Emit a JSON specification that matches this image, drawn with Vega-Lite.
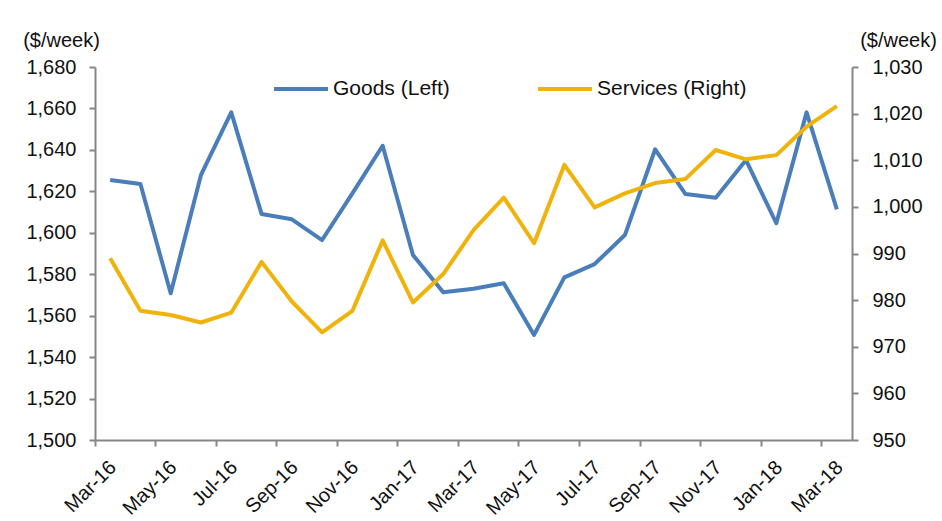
{
  "$schema": "https://vega.github.io/schema/vega-lite/v6.json",
  "width": 757,
  "height": 373,
  "autosize": {"type": "none"},
  "padding": {"left": 95, "top": 67, "right": 90, "bottom": 81},
  "background": "white",
  "config": {
    "font": "Liberation Sans",
    "view": {"stroke": null},
    "axis": {
      "domainColor": "#868686",
      "domainWidth": 2,
      "tickColor": "#868686",
      "tickWidth": 2,
      "tickSize": 6,
      "labelFont": "Liberation Sans",
      "labelFontSize": 20,
      "labelColor": "#111111",
      "titleFont": "Liberation Sans",
      "titleFontSize": 20,
      "titleFontWeight": "normal",
      "titleColor": "#111111",
      "grid": false
    },
    "legend": {
      "labelFont": "Liberation Sans",
      "labelFontSize": 21,
      "labelColor": "#111111"
    }
  },
  "data": {
    "values": [
      {"month": "Mar-16", "goods": 1625.5, "services": 989.0},
      {"month": "Apr-16", "goods": 1623.5, "services": 977.7},
      {"month": "May-16", "goods": 1570.8, "services": 976.8},
      {"month": "Jun-16", "goods": 1627.9, "services": 975.2},
      {"month": "Jul-16", "goods": 1658.1, "services": 977.3},
      {"month": "Aug-16", "goods": 1609.1, "services": 988.2},
      {"month": "Sep-16", "goods": 1606.5, "services": 979.7},
      {"month": "Oct-16", "goods": 1596.5, "services": 973.1},
      {"month": "Nov-16", "goods": 1619.0, "services": 977.7},
      {"month": "Dec-16", "goods": 1642.0, "services": 992.8},
      {"month": "Jan-17", "goods": 1589.3, "services": 979.5},
      {"month": "Feb-17", "goods": 1571.3, "services": 985.6},
      {"month": "Mar-17", "goods": 1573.0, "services": 995.0},
      {"month": "Apr-17", "goods": 1575.6, "services": 1002.0},
      {"month": "May-17", "goods": 1550.7, "services": 992.2},
      {"month": "Jun-17", "goods": 1578.5, "services": 1009.0},
      {"month": "Jul-17", "goods": 1584.9, "services": 999.9},
      {"month": "Aug-17", "goods": 1598.9, "services": 1002.9},
      {"month": "Sep-17", "goods": 1640.3, "services": 1005.1},
      {"month": "Oct-17", "goods": 1618.7, "services": 1006.0},
      {"month": "Nov-17", "goods": 1616.9, "services": 1012.2},
      {"month": "Dec-17", "goods": 1635.1, "services": 1010.2},
      {"month": "Jan-18", "goods": 1604.6, "services": 1011.1},
      {"month": "Feb-18", "goods": 1658.1, "services": 1017.2},
      {"month": "Mar-18", "goods": 1611.3, "services": 1021.6}
    ]
  },
  "encoding": {
    "x": {
      "field": "month",
      "type": "ordinal",
      "sort": null,
      "bandPosition": 0.5,
      "scale": {"type": "band", "paddingInner": 0, "paddingOuter": 0},
      "axis": {
        "title": null,
        "values": ["Mar-16", "May-16", "Jul-16", "Sep-16", "Nov-16", "Jan-17", "Mar-17", "May-17", "Jul-17", "Sep-17", "Nov-17", "Jan-18", "Mar-18"],
        "bandPosition": 0,
        "labelOffset": 3,
        "labelAngle": -45,
        "labelAlign": "right",
        "labelBaseline": "middle",
        "labelPadding": 18
      }
    }
  },
  "layer": [
    {
      "mark": {"type": "line", "strokeWidth": 4, "strokeJoin": "round"},
      "encoding": {
        "y": {
          "field": "goods",
          "type": "quantitative",
          "scale": {"domain": [1500, 1680], "nice": false, "zero": false},
          "axis": {
            "orient": "left",
            "values": [1500, 1520, 1540, 1560, 1580, 1600, 1620, 1640, 1660, 1680],
            "format": ",.0f",
            "labelPadding": 13,
            "title": "($/week)",
            "titleAngle": 0,
            "titleX": -34,
            "titleY": -21,
            "titleAlign": "center",
            "titleBaseline": "alphabetic"
          }
        },
        "color": {
          "datum": "Goods (Left)",
          "type": "nominal",
          "scale": {"domain": ["Goods (Left)", "Services (Right)"], "range": ["#4a7ebb", "#efb30c"]},
          "legend": {
            "title": null,
            "orient": "none",
            "legendX": 177,
            "legendY": -7,
            "direction": "horizontal",
            "symbolType": "stroke",
            "symbolSize": 2916,
            "symbolStrokeWidth": 4,
            "labelOffset": 3,
            "columnPadding": 80
          }
        }
      }
    },
    {
      "mark": {"type": "line", "strokeWidth": 4, "strokeJoin": "round"},
      "encoding": {
        "y": {
          "field": "services",
          "type": "quantitative",
          "scale": {"domain": [950, 1030], "nice": false, "zero": false},
          "axis": {
            "orient": "right",
            "values": [950, 960, 970, 980, 990, 1000, 1010, 1020, 1030],
            "format": ",.0f",
            "labelPadding": 14,
            "title": "($/week)",
            "titleAngle": 0,
            "titleX": 46,
            "titleY": -21,
            "titleAlign": "center",
            "titleBaseline": "alphabetic"
          }
        },
        "color": {"datum": "Services (Right)", "type": "nominal"}
      }
    }
  ],
  "resolve": {"scale": {"y": "independent"}}
}
